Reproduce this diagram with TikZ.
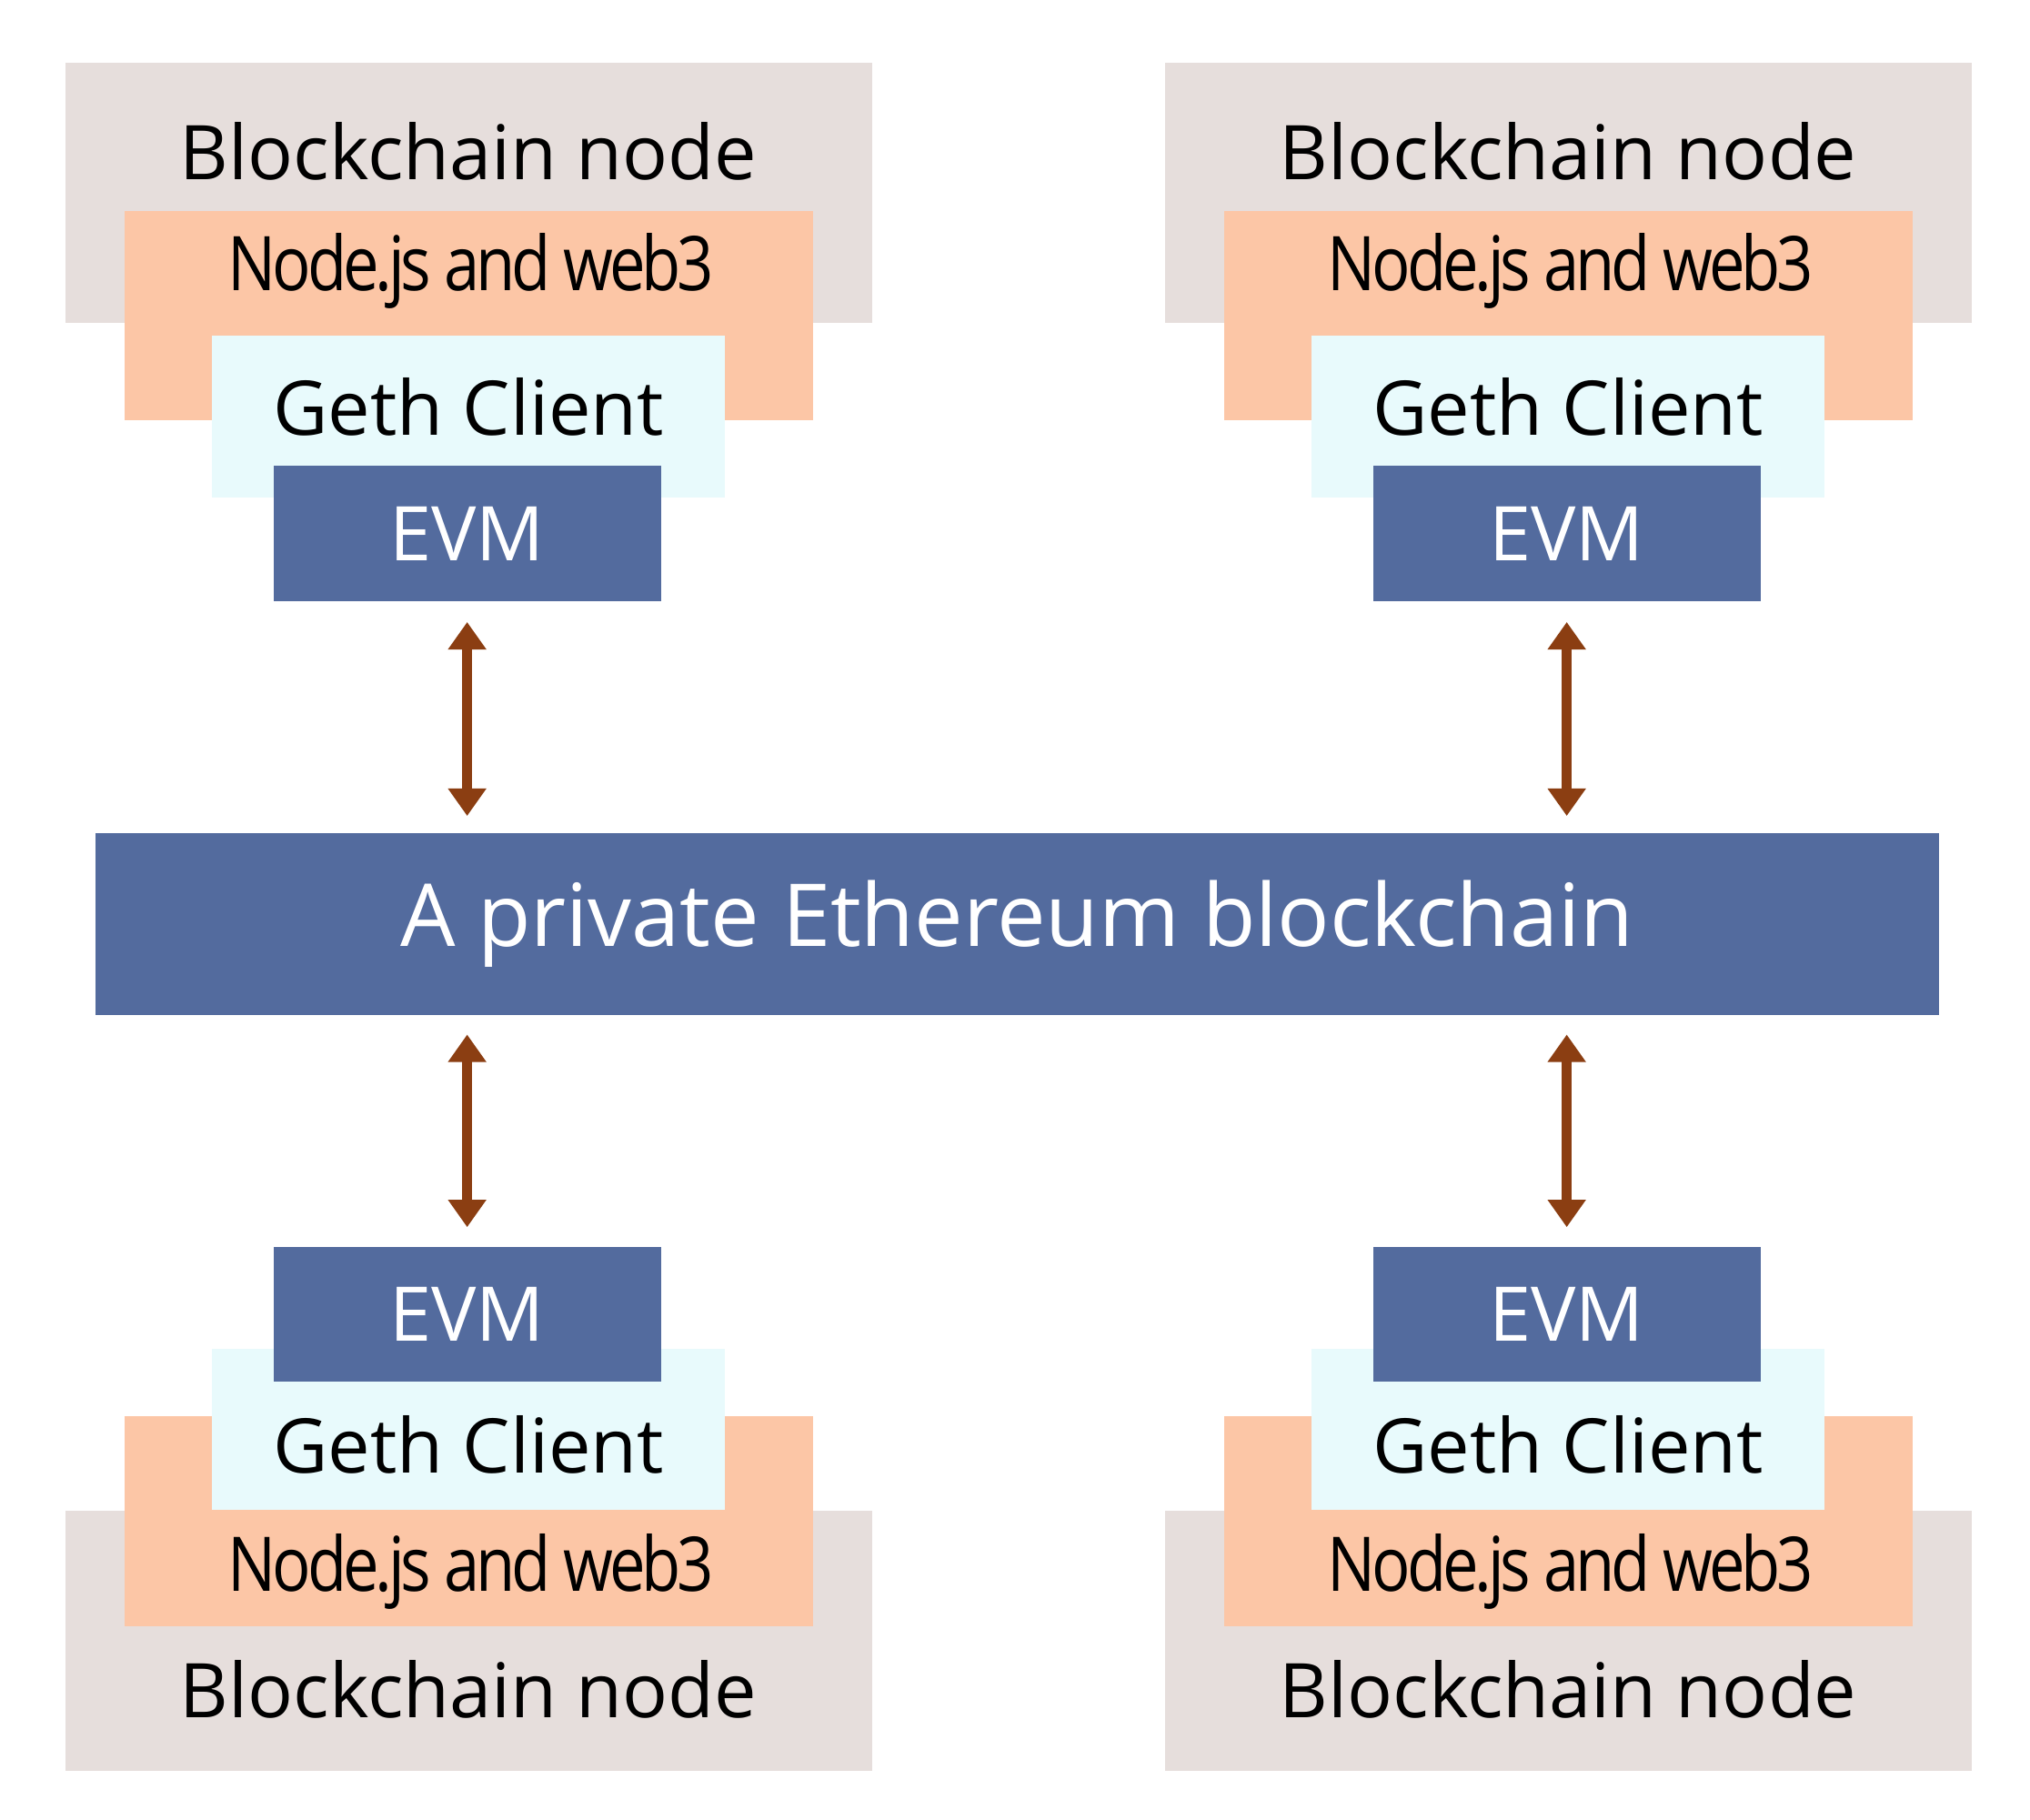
\documentclass[tikz,border=0pt]{standalone}
\usepackage{fontspec}
\setmainfont{Open Sans}
\usetikzlibrary{arrows.meta}
\definecolor{cgray}{HTML}{E6DEDC}
\definecolor{corange}{HTML}{FCC6A6}
\definecolor{ccyan}{HTML}{E8FAFC}
\definecolor{cblue}{HTML}{536B9E}
\definecolor{carrow}{HTML}{8B3E12}
\begin{document}
\begin{tikzpicture}[x=0.02cm,y=-0.02cm,
  box/.style={inner sep=0,outer sep=0,draw=none},
  gray/.style={box,fill=cgray,minimum width=12.4cm,minimum height=4cm},
  orange/.style={box,fill=corange,minimum width=10.58cm,minimum height=3.22cm},
  cyan/.style={box,fill=ccyan,minimum width=7.88cm,minimum height=2.48cm},
  evm/.style={box,fill=cblue,minimum width=5.96cm,minimum height=2.08cm,text=white,font=\fontsize{33}{40}\selectfont},
  txt/.style={inner sep=0,font=\fontsize{33}{40}\selectfont},
  ntxt/.style={inner sep=0,font=\fontsize{33}{40}\selectfont\addfontfeature{LetterSpace=-6}},
  arr/.style={carrow,line width=4.5pt,{Triangle[width=16pt,length=12pt]}-{Triangle[width=16pt,length=12pt]}}]
\useasboundingbox (0,0) rectangle (1560,1398);
\foreach \dx/\s in {0/L,845/R}{
  % top
  \node[gray] (g\s t) at (360+\dx,148) {};
  \node[txt] (gt\s t) at (360+\dx,116) {Blockchain node};
  \node[orange] (o\s t) at (360.5+\dx,242.5) {};
  \node[ntxt] (ot\s t) at (362+\dx,208) {\scalebox{0.85}[1]{Node.js and web3}};
  \node[cyan] (c\s t) at (360+\dx,320) {};
  \node[txt] (ct\s t) at (360+\dx,313) {Geth Client};
  \node[evm] (e\s t) at (359+\dx,410) {EVM};
  % bottom
  \node[gray] (g\s b) at (360+\dx,1261) {};
  \node[txt] (gt\s b) at (360+\dx,1298) {Blockchain node};
  \node[orange] (o\s b) at (360.5+\dx,1169) {};
  \node[ntxt] (ot\s b) at (362+\dx,1208) {\scalebox{0.85}[1]{Node.js and web3}};
  \node[cyan] (c\s b) at (360+\dx,1098.5) {};
  \node[txt] (ct\s b) at (360+\dx,1110) {Geth Client};
  \node[evm] (e\s b) at (359+\dx,1010) {EVM};
}
\node[box,fill=cblue,minimum width=28.34cm,minimum height=2.8cm,text=white,font=\fontsize{38}{46}\selectfont] (bar) at (781.5,710) {A private Ethereum blockchain};
\draw[arr] ([yshift=-0.32cm]eLt.south) -- ([yshift=0.26cm]bar.north -| eLt.south);
\draw[arr] ([yshift=-0.32cm]eRt.south) -- ([yshift=0.26cm]bar.north -| eRt.south);
\draw[arr] ([yshift=-0.3cm]bar.south -| eLb.north) -- ([yshift=0.3cm]eLb.north);
\draw[arr] ([yshift=-0.3cm]bar.south -| eRb.north) -- ([yshift=0.3cm]eRb.north);
\end{tikzpicture}
\end{document}
